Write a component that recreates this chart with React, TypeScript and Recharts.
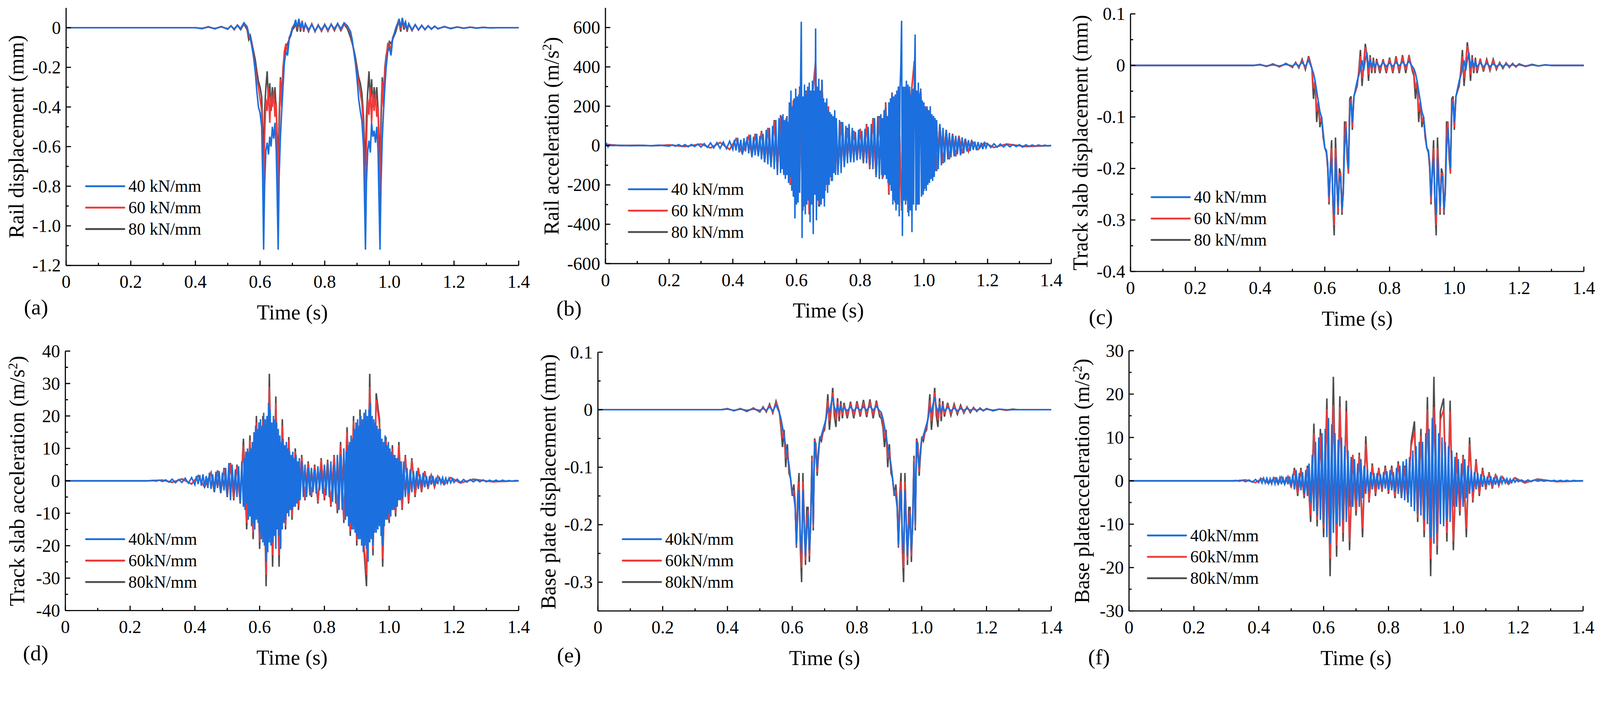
import React from 'react';
import { LineChart, Line, XAxis, YAxis, Legend } from 'recharts';

const FONT = '"Liberation Serif", "Times New Roman", Times, serif';
const BLUE = '#1B6FDE';
const RED = '#EF3B3B';
const GRAY = '#4D4D4D';

// ---------- time grids (s) ----------
const tRail = [
  0, 0.40, 0.42, 0.44, 0.46, 0.48, 0.50, 0.51, 0.52, 0.53,
  0.54, 0.55, 0.56, 0.565, 0.57, 0.575, 0.58, 0.585, 0.59, 0.595,
  0.60, 0.605, 0.608, 0.611, 0.614, 0.618, 0.622, 0.626, 0.63, 0.634,
  0.638, 0.642, 0.646, 0.65, 0.653, 0.656, 0.659, 0.663, 0.667, 0.671,
  0.675, 0.68, 0.685, 0.69, 0.695, 0.70, 0.705, 0.71, 0.715, 0.72,
  0.725, 0.73, 0.735, 0.74, 0.75, 0.76, 0.77, 0.78, 0.79, 0.80,
  0.81, 0.82, 0.83, 0.84, 0.85, 0.86, 0.87, 0.88, 0.885, 0.89,
  0.895, 0.90, 0.905, 0.91, 0.915, 0.92, 0.923, 0.926, 0.929, 0.933,
  0.937, 0.941, 0.945, 0.949, 0.953, 0.957, 0.961, 0.965, 0.968, 0.971,
  0.974, 0.978, 0.982, 0.986, 0.99, 0.995, 1.00, 1.005, 1.01, 1.015,
  1.02, 1.025, 1.03, 1.035, 1.04, 1.045, 1.05, 1.055, 1.06, 1.07,
  1.08, 1.09, 1.10, 1.11, 1.12, 1.13, 1.14, 1.15, 1.17, 1.19,
  1.21, 1.23, 1.25, 1.27, 1.29, 1.31, 1.34, 1.40,
];

const tSlab = [
  0, 0.38, 0.40, 0.42, 0.44, 0.46, 0.48, 0.50, 0.51, 0.52,
  0.53, 0.54, 0.55, 0.56, 0.565, 0.57, 0.575, 0.58, 0.585, 0.59,
  0.595, 0.60, 0.605, 0.609, 0.613, 0.617, 0.621, 0.625, 0.629, 0.633,
  0.637, 0.641, 0.645, 0.649, 0.653, 0.657, 0.661, 0.665, 0.669, 0.673,
  0.677, 0.681, 0.685, 0.69, 0.695, 0.70, 0.705, 0.71, 0.715, 0.72,
  0.725, 0.73, 0.735, 0.74, 0.745, 0.75, 0.755, 0.76, 0.77, 0.78,
  0.79, 0.80, 0.81, 0.82, 0.83, 0.84, 0.85, 0.86, 0.87, 0.875,
  0.88, 0.885, 0.89, 0.895, 0.90, 0.905, 0.91, 0.915, 0.92, 0.924,
  0.928, 0.932, 0.936, 0.94, 0.944, 0.948, 0.952, 0.956, 0.96, 0.964,
  0.968, 0.972, 0.976, 0.98, 0.984, 0.988, 0.992, 0.996, 1.00, 1.005,
  1.01, 1.015, 1.02, 1.025, 1.03, 1.035, 1.04, 1.045, 1.05, 1.055,
  1.06, 1.065, 1.07, 1.08, 1.09, 1.10, 1.11, 1.12, 1.13, 1.14,
  1.15, 1.16, 1.17, 1.18, 1.19, 1.20, 1.22, 1.24, 1.26, 1.28,
  1.30, 1.32, 1.34, 1.36, 1.38, 1.40,
];

// 5 ms grid in the active zone (used for base plate acceleration)
const tAcc = [
  0, 0.004, 0.008, 0.012, 0.02, 0.05, 0.08, 0.11, 0.14, 0.17,
  0.20, 0.21, 0.22, 0.23, 0.24, 0.25, 0.26, 0.27, 0.28, 0.29,
  0.30, 0.31, 0.32, 0.33, 0.34, 0.35, 0.36, 0.37, 0.38, 0.39,
  0.40, 0.405, 0.41, 0.415, 0.42, 0.425, 0.43, 0.435, 0.44, 0.445,
  0.45, 0.455, 0.46, 0.465, 0.47, 0.475, 0.48, 0.485, 0.49, 0.495,
  0.50, 0.505, 0.51, 0.515, 0.52, 0.525, 0.53, 0.535, 0.54, 0.545,
  0.55, 0.555, 0.56, 0.565, 0.57, 0.575, 0.58, 0.585, 0.59, 0.595,
  0.60, 0.605, 0.61, 0.615, 0.62, 0.625, 0.63, 0.635, 0.64, 0.645,
  0.65, 0.655, 0.66, 0.665, 0.67, 0.675, 0.68, 0.685, 0.69, 0.695,
  0.70, 0.705, 0.71, 0.715, 0.72, 0.725, 0.73, 0.735, 0.74, 0.745,
  0.75, 0.755, 0.76, 0.765, 0.77, 0.775, 0.78, 0.785, 0.79, 0.795,
  0.80, 0.805, 0.81, 0.815, 0.82, 0.825, 0.83, 0.835, 0.84, 0.845,
  0.85, 0.855, 0.86, 0.865, 0.87, 0.875, 0.88, 0.885, 0.89, 0.895,
  0.90, 0.905, 0.91, 0.915, 0.92, 0.925, 0.93, 0.935, 0.94, 0.945,
  0.95, 0.955, 0.96, 0.965, 0.97, 0.975, 0.98, 0.985, 0.99, 0.995,
  1.00, 1.005, 1.01, 1.015, 1.02, 1.025, 1.03, 1.035, 1.04, 1.045,
  1.05, 1.055, 1.06, 1.065, 1.07, 1.075, 1.08, 1.085, 1.09, 1.095,
  1.10, 1.105, 1.11, 1.115, 1.12, 1.125, 1.13, 1.135, 1.14, 1.145,
  1.15, 1.155, 1.16, 1.165, 1.17, 1.175, 1.18, 1.185, 1.19, 1.195,
  1.20, 1.21, 1.22, 1.23, 1.24, 1.25, 1.26, 1.27, 1.28, 1.29,
  1.30, 1.31, 1.32, 1.33, 1.34, 1.35, 1.36, 1.37, 1.38, 1.39,
  1.40,
];

// 2.5 ms grid inside the two wheel-passage bursts (rail and slab acceleration)
const tAccD = [
  0, 0.004, 0.008, 0.012, 0.02, 0.05, 0.08, 0.11, 0.14, 0.17,
  0.20, 0.21, 0.22, 0.23, 0.24, 0.25, 0.26, 0.27, 0.28, 0.29,
  0.30, 0.31, 0.32, 0.33, 0.34, 0.35, 0.36, 0.37, 0.38, 0.39,
  0.40, 0.405, 0.41, 0.415, 0.42, 0.425, 0.43, 0.435, 0.44, 0.445,
  0.45, 0.455, 0.46, 0.465, 0.47, 0.475, 0.48, 0.485, 0.49, 0.495,
  0.50, 0.505, 0.51, 0.515, 0.52, 0.525, 0.53, 0.535, 0.54, 0.545,
  0.55, 0.5525, 0.555, 0.5575, 0.56, 0.5625, 0.565, 0.5675, 0.57, 0.5725,
  0.575, 0.5775, 0.58, 0.5825, 0.585, 0.5875, 0.59, 0.5925, 0.595, 0.5975,
  0.60, 0.6025, 0.605, 0.6075, 0.61, 0.6125, 0.615, 0.6175, 0.62, 0.6225,
  0.625, 0.6275, 0.63, 0.6325, 0.635, 0.6375, 0.64, 0.6425, 0.645, 0.6475,
  0.65, 0.6525, 0.655, 0.6575, 0.66, 0.6625, 0.665, 0.6675, 0.67, 0.6725,
  0.675, 0.6775, 0.68, 0.6825, 0.685, 0.6875, 0.69, 0.6925, 0.695, 0.6975,
  0.70, 0.7025, 0.705, 0.7075, 0.71, 0.7125, 0.715, 0.7175, 0.72, 0.7225,
  0.725, 0.73, 0.735, 0.74, 0.745, 0.75, 0.755, 0.76, 0.765, 0.77,
  0.775, 0.78, 0.785, 0.79, 0.795, 0.80, 0.805, 0.81, 0.815, 0.82,
  0.825, 0.83, 0.835, 0.84, 0.845, 0.85, 0.855, 0.86,
  0.865, 0.8675, 0.87, 0.8725, 0.875, 0.8775, 0.88, 0.8825, 0.885, 0.8875,
  0.89, 0.8925, 0.895, 0.8975, 0.90, 0.9025, 0.905, 0.9075, 0.91, 0.9125,
  0.915, 0.9175, 0.92, 0.9225, 0.925, 0.9275, 0.93, 0.9325, 0.935, 0.9375,
  0.94, 0.9425, 0.945, 0.9475, 0.95, 0.9525, 0.955, 0.9575, 0.96, 0.9625,
  0.965, 0.9675, 0.97, 0.9725, 0.975, 0.9775, 0.98, 0.9825, 0.985, 0.9875,
  0.99, 0.9925, 0.995, 0.9975, 1.00, 1.0025, 1.005, 1.0075, 1.01, 1.0125,
  1.015, 1.0175, 1.02, 1.0225, 1.025, 1.0275, 1.03, 1.0325, 1.035, 1.0375,
  1.04, 1.045, 1.05, 1.055, 1.06, 1.065, 1.07, 1.075, 1.08, 1.085,
  1.09, 1.095, 1.10, 1.105, 1.11, 1.115, 1.12, 1.125, 1.13, 1.135,
  1.14, 1.145, 1.15, 1.155, 1.16, 1.165, 1.17, 1.175, 1.18, 1.185,
  1.19, 1.195,
  1.20, 1.21, 1.22, 1.23, 1.24, 1.25, 1.26, 1.27, 1.28, 1.29,
  1.30, 1.31, 1.32, 1.33, 1.34, 1.35, 1.36, 1.37, 1.38, 1.39,
  1.40,
];

// coarser grid for the 60 / 80 kN/mm acceleration curves (mostly hidden under blue)
const tAccB = [
  0, 0.01, 0.05, 0.10, 0.15, 0.20, 0.25, 0.30, 0.33, 0.36,
  0.39, 0.41, 0.43, 0.45, 0.46, 0.47, 0.48, 0.49, 0.50, 0.51,
  0.52, 0.53, 0.54, 0.55, 0.56, 0.57, 0.58, 0.59, 0.60, 0.61,
  0.62, 0.63, 0.64, 0.65, 0.66, 0.67, 0.68, 0.69, 0.70, 0.71,
  0.72, 0.73, 0.74, 0.75, 0.76, 0.77, 0.78, 0.79, 0.80, 0.81,
  0.82, 0.83, 0.84, 0.85, 0.86, 0.87, 0.88, 0.89, 0.90, 0.91,
  0.92, 0.93, 0.94, 0.95, 0.96, 0.97, 0.98, 0.99, 1.00, 1.01,
  1.02, 1.03, 1.04, 1.05, 1.06, 1.07, 1.08, 1.09, 1.10, 1.11,
  1.12, 1.13, 1.14, 1.15, 1.17, 1.19, 1.22, 1.26, 1.32, 1.40,
];

// ---------- (a) rail displacement (mm) ----------
const a40 = [
  0, 0, -0.003, 0.003, -0.004, 0.004, -0.005, 0.008, -0.006, 0.012,
  -0.004, 0.025, 0.005, -0.03, -0.05, -0.10, -0.15, -0.22, -0.32, -0.40,
  -0.43, -0.50, -0.75, -1.12, -0.80, -0.62, -0.58, -0.64, -0.55, -0.60,
  -0.50, -0.56, -0.48, -0.62, -0.85, -1.12, -0.75, -0.55, -0.42, -0.30,
  -0.18, -0.12, -0.14, -0.06, -0.03, 0.0, 0.01, 0.04, 0.0, 0.045,
  0.0, 0.03, -0.01, 0.02, -0.01, 0.015, -0.015, 0.01, -0.01, 0.015,
  -0.01, 0.015, -0.005, 0.02, -0.005, 0.025, 0.01, -0.02, -0.06, -0.12,
  -0.18, -0.26, -0.36, -0.42, -0.47, -0.60, -0.85, -1.12, -0.78, -0.62,
  -0.57, -0.63, -0.48, -0.55, -0.52, -0.58, -0.50, -0.62, -0.88, -1.12,
  -0.80, -0.56, -0.42, -0.30, -0.20, -0.12, -0.10, -0.14, -0.06, -0.03,
  0.0, 0.02, 0.045, 0.0, 0.05, 0.01, 0.03, -0.01, 0.02, -0.01,
  0.015, -0.01, 0.01, -0.008, 0.008, -0.005, 0.006, -0.004, 0.004, -0.003,
  0.003, -0.002, 0.002, -0.002, 0.001, -0.001, 0, 0,
];
const a60 = [
  0, 0, -0.004, 0.004, -0.005, 0.005, -0.007, 0.01, -0.008, 0.014,
  -0.006, 0.022, 0.0, -0.04, -0.06, -0.09, -0.14, -0.20, -0.26, -0.30,
  -0.36, -0.42, -0.65, -0.93, -0.55, -0.36, -0.42, -0.30, -0.48, -0.34,
  -0.40, -0.32, -0.45, -0.38, -0.60, -0.92, -0.55, -0.26, -0.40, -0.22,
  -0.12, -0.08, -0.12, -0.05, -0.03, 0.0, 0.015, 0.03, -0.005, 0.04,
  -0.01, 0.035, -0.015, 0.02, -0.015, 0.018, -0.018, 0.012, -0.015, 0.018,
  -0.015, 0.018, -0.01, 0.022, -0.01, 0.02, 0.005, -0.03, -0.07, -0.12,
  -0.17, -0.23, -0.28, -0.33, -0.38, -0.50, -0.70, -0.93, -0.58, -0.36,
  -0.44, -0.30, -0.48, -0.33, -0.42, -0.33, -0.45, -0.40, -0.65, -0.93,
  -0.55, -0.27, -0.40, -0.22, -0.15, -0.08, -0.08, -0.12, -0.05, -0.03,
  -0.005, 0.015, 0.04, -0.01, 0.048, 0.0, 0.025, -0.015, 0.02, -0.012,
  0.015, -0.012, 0.012, -0.01, 0.01, -0.007, 0.007, -0.005, 0.005, -0.004,
  0.004, -0.003, 0.003, -0.002, 0.002, -0.001, 0, 0,
];
const a80 = [
  0, 0, -0.005, 0.005, -0.006, 0.006, -0.008, 0.01, -0.01, 0.012,
  -0.01, 0.018, -0.01, -0.06, -0.04, -0.08, -0.12, -0.16, -0.22, -0.27,
  -0.30, -0.35, -0.50, -0.70, -0.42, -0.30, -0.22, -0.38, -0.28, -0.42,
  -0.30, -0.38, -0.30, -0.42, -0.55, -0.70, -0.45, -0.25, -0.35, -0.20,
  -0.14, -0.10, -0.08, -0.06, -0.04, -0.01, 0.0, 0.02, -0.02, 0.035,
  -0.02, 0.03, -0.02, 0.018, -0.02, 0.02, -0.02, 0.015, -0.018, 0.015,
  -0.018, 0.018, -0.015, 0.02, -0.015, 0.018, -0.005, -0.05, -0.08, -0.11,
  -0.15, -0.20, -0.25, -0.28, -0.33, -0.45, -0.58, -0.70, -0.45, -0.32,
  -0.22, -0.38, -0.26, -0.40, -0.30, -0.38, -0.30, -0.42, -0.55, -0.70,
  -0.45, -0.25, -0.35, -0.20, -0.14, -0.10, -0.07, -0.08, -0.06, -0.04,
  -0.02, 0.01, 0.03, -0.02, 0.04, -0.01, 0.02, -0.02, 0.018, -0.015,
  0.015, -0.012, 0.012, -0.01, 0.01, -0.008, 0.008, -0.006, 0.006, -0.005,
  0.004, -0.003, 0.003, -0.002, 0.002, -0.001, 0, 0,
];

// ---------- (b) rail acceleration (m/s2), 40 on tAccD ----------
const b40 = [
  0, 9, -7, 3, 0, 1, -1, 1, -1, 2,
  -3, 4, -3, 5, -4, 5, -6, 6, -5, 8,
  -8, 10, -9, 14, -12, 15, -14, 18, -16, 22,
  -20, 28, -25, 40, -35, 30, -45, 38, -30, 45,
  -40, 55, -60, 45, -50, 60, -55, 50, -70, 60,
  -85, 80, -95, 90, -110, 100, -120, 130, -150, 140,
  -140, 150, -120, 160, -150, 130, -170, 140, -150, 120,
  -190, 220, -160, 280, -230, 200, -260, 240, -370, 290,
  -300, 250, -290, 260, -240, 300, 630, -470, 250, -310,
  310, -350, 260, -300, 300, -280, 320, -390, 280, -300,
  330, -450, 280, -250, 595, -380, 300, -280, 340, -310,
  280, -300, 335, -270, 240, -310, 220, -200, 240, -240,
  180, -200, 170, -160, 160, -180, 150, -140, 180, -150,
  140, -150, 130, -140, 120, -110, 100, -90, 110, -85,
  90, -85, 70, -75, 80, -70, 75, -80, 85, -90,
  95, -100, 110, -120, 140, -150, 150, -170,
  160, -150, 140, -160, 180, -150, 190, -170, 150, -190,
  220, -200, 240, -230, 260, -300, 250, -280, 260, -330,
  280, -300, 300, -360, 290, 400, 635, -460, 300, -280,
  300, -300, 330, -280, 310, -360, 300, -330, 260, -440,
  290, -300, 320, 565, -330, 280, -300, 320, -300, 260,
  280, -260, 230, -250, 220, -220, 200, -230, 190, -200,
  180, -190, 200, -170, 160, -180, 150, -160, 140, -130,
  130, -120, 110, -100, 90, -85, 80, -70, 65, -60,
  55, -55, 50, -45, 40, -50, 42, -40, 35, -30,
  28, -28, 25, -22, 20, -24, 18, -16, 15, -18,
  12, -12,
  10, -10, 9, -8, 8, -7, 6, -6, 5, -5,
  5, -8, 4, -4, 3, -3, 3, -2, 2, -2,
  0,
];
const b60 = [
  0, 4, 0, 1, -1, 3, -4, 7, -11, 15,
  -19, 33, -38, 48, -52, 58, -48, 72, -80, 88,
  -95, 125, -125, 150, -135, 145, -195, 225, -250, 290,
  -320, 270, -340, 250, 420, -300, 330, -225, 200, -175,
  145, -135, 115, -95, 85, -75, 72, -68, 80, -85,
  105, -115, 135, -155, 145, -165, 215, -245, 265, -285,
  295, -325, 275, -335, 255, 425, -295, 285, -225, 200,
  -165, 145, -125, 105, -85, 75, -65, 58, -52, 48,
  -38, 33, -28, 24, -18, 14, -9, 7, -4, 0,
];
const b80 = [
  0, 5, 0, 1, -1, 3, -5, 8, -12, 16,
  -20, 35, -40, 50, -55, 60, -50, 75, -85, 90,
  -100, 130, -130, 155, -140, 150, -200, 230, -260, 300,
  -330, 280, -350, 260, 430, -310, 335, -230, 190, -180,
  150, -140, 120, -100, 90, -80, 75, -70, 85, -90,
  110, -120, 140, -160, 150, -170, 220, -250, 270, -290,
  300, -330, 280, -340, 260, 430, -300, 290, -230, 190,
  -170, 150, -130, 110, -90, 80, -70, 60, -55, 50,
  -40, 35, -30, 25, -20, 15, -10, 8, -5, 0,
];

// ---------- (c) track slab displacement (mm) ----------
const c40 = [
  0, 0, 0.001, -0.001, 0.001, -0.001, 0.002, -0.001, 0.003, -0.001,
  0.006, -0.002, 0.01, -0.006, -0.015, -0.03, -0.05, -0.07, -0.09, -0.10,
  -0.13, -0.16, -0.165, -0.19, -0.255, -0.21, -0.18, -0.26, -0.29, -0.18,
  -0.23, -0.275, -0.22, -0.215, -0.28, -0.25, -0.16, -0.12, -0.16, -0.20,
  -0.09, -0.07, -0.11, -0.06, -0.045, -0.03, -0.02, -0.005, 0.01, -0.01,
  0.01, 0.025, -0.005, 0.012, -0.004, 0.008, -0.003, 0.005, -0.003, 0.006,
  -0.002, 0.005, -0.002, 0.006, -0.001, 0.007, -0.001, 0.008, -0.002, -0.006,
  -0.015, -0.03, -0.05, -0.07, -0.09, -0.10, -0.13, -0.16, -0.165, -0.19,
  -0.255, -0.21, -0.18, -0.26, -0.29, -0.18, -0.23, -0.275, -0.22, -0.215,
  -0.28, -0.25, -0.16, -0.12, -0.16, -0.20, -0.09, -0.07, -0.11, -0.06,
  -0.045, -0.03, -0.02, -0.005, 0.01, -0.01, 0.01, 0.025, -0.005, 0.012,
  -0.004, 0.008, -0.003, 0.005, -0.003, 0.004, -0.002, 0.003, -0.002, 0.002,
  -0.002, 0.002, -0.001, 0.001, -0.001, 0.001, -0.001, 0.001, -0.001, 0.001,
  0, 0, 0, 0, 0, 0,
];
const c60 = [
  0, 0, 0.0015, -0.0015, 0.002, -0.002, 0.003, -0.003, 0.005, -0.003,
  0.009, -0.005, 0.014, -0.005, -0.045, -0.03, -0.09, -0.07, -0.11, -0.10,
  -0.135, -0.16, -0.168, -0.195, -0.265, -0.205, -0.16, -0.265, -0.31, -0.16,
  -0.22, -0.285, -0.21, -0.21, -0.285, -0.245, -0.13, -0.11, -0.17, -0.21,
  -0.075, -0.065, -0.12, -0.06, -0.048, -0.035, -0.015, 0.018, -0.025, 0.0,
  0.035, 0.022, -0.018, 0.016, -0.01, 0.012, -0.01, 0.01, -0.01, 0.009,
  -0.01, 0.011, -0.01, 0.013, -0.009, 0.015, -0.009, 0.016, -0.007, -0.014,
  -0.045, -0.03, -0.09, -0.07, -0.11, -0.10, -0.135, -0.16, -0.168, -0.195,
  -0.265, -0.205, -0.16, -0.265, -0.31, -0.16, -0.22, -0.285, -0.21, -0.21,
  -0.285, -0.245, -0.13, -0.11, -0.17, -0.21, -0.075, -0.065, -0.12, -0.06,
  -0.048, -0.035, -0.015, 0.018, -0.025, 0.0, 0.038, 0.022, -0.018, 0.016,
  -0.01, 0.012, -0.01, 0.01, -0.009, 0.009, -0.007, 0.009, -0.006, 0.005,
  -0.004, 0.004, -0.003, 0.003, -0.002, 0.002, -0.002, 0.001, -0.001, 0.001,
  0, 0, 0, 0, 0, 0,
];
const c80 = [
  0, 0, 0.002, -0.002, 0.003, -0.003, 0.004, -0.004, 0.006, -0.005,
  0.012, -0.008, 0.018, -0.005, -0.065, -0.03, -0.11, -0.07, -0.12, -0.10,
  -0.14, -0.16, -0.17, -0.20, -0.27, -0.20, -0.145, -0.27, -0.33, -0.14,
  -0.21, -0.29, -0.20, -0.21, -0.29, -0.24, -0.11, -0.11, -0.18, -0.21,
  -0.065, -0.06, -0.125, -0.06, -0.05, -0.04, -0.01, 0.03, -0.04, 0.0,
  0.042, 0.02, -0.03, 0.02, -0.015, 0.015, -0.015, 0.013, -0.015, 0.012,
  -0.015, 0.015, -0.015, 0.018, -0.015, 0.02, -0.015, 0.02, -0.01, -0.02,
  -0.065, -0.03, -0.11, -0.07, -0.12, -0.10, -0.14, -0.16, -0.17, -0.20,
  -0.27, -0.20, -0.145, -0.27, -0.33, -0.14, -0.21, -0.29, -0.20, -0.21,
  -0.29, -0.24, -0.11, -0.11, -0.18, -0.21, -0.065, -0.06, -0.125, -0.06,
  -0.05, -0.04, -0.01, 0.03, -0.04, 0.0, 0.045, 0.02, -0.03, 0.02,
  -0.015, 0.015, -0.015, 0.013, -0.012, 0.012, -0.01, 0.012, -0.008, 0.006,
  -0.006, 0.005, -0.004, 0.004, -0.003, 0.003, -0.002, 0.002, -0.001, 0.001,
  0, 0, 0, 0, 0, 0,
];

// ---------- (d) track slab acceleration (m/s2), 40 on tAccD ----------
const d40 = [
  0, 0, 0, 0, 0, 0, 0, 0, 0, 0,
  0, 0, 0, 0, 0, 0, 0, 0.1, -0.1, 0.2,
  -0.2, 0.3, -0.4, 0.5, -0.6, 0.4, -0.5, 0.8, -0.7, 1.0,
  -1.2, 1.5, -1.0, 1.8, -1.5, 2.0, -1.8, 1.5, -2.2, 2.5,
  -2.5, 2.0, -3.0, 2.8, -2.2, 3.0, -3.5, 2.5, -3.0, 4.0,
  -4.5, 5.5, -6.0, 5.0, -4.0, 3.5, -5.0, 4.5, -6.5, 6.0,
  -8.0, 7.0, -9.0, 9.0, -7.0, 10.0, -12.0, 9.0, -11.0, 10.0,
  -14.0, 12.0, -13.0, 15.0, -15.0, 17.0, -12.0, 16.0, -13.0, 18.0,
  -16.0, 19.0, -18.0, 17.0, -19.0, 21.0, -20.0, 19.0, -25.0, 20.0,
  -22.0, 24.0, -19.0, 22.0, -20.0, 18.0, -19.0, 20.0, -17.0, 19.0,
  -21.0, 18.0, -15.0, 16.0, -17.0, 14.0, -21.0, 12.0, -15.0, 13.0,
  -13.0, 11.0, -12.0, 12.0, -10.0, 10.0, -11.0, 9.0, -9.0, 8.0,
  -9.0, 9.0, -8.0, 7.0, -8.0, 8.0, -7.0, 6.0, -6.0, 7.0,
  -6.0, 6.0, -5.0, 5.0, -5.0, 4.0, -4.5, 4.0, -3.5, 3.5,
  -4.0, 4.5, -3.0, 3.5, -4.0, 5.0, -4.5, 5.5, -5.0, 6.0,
  -6.5, 5.0, -7.0, 8.0, -9.0, 8.0, -9.0, 10.0,
  -12.0, 9.0, -11.0, 11.0, -14.0, 12.0, -13.0, 14.0, -15.0, 13.0,
  -15.0, 16.0, -16.0, 18.0, -17.0, 19.0, -18.0, 17.0, -18.0, 20.0,
  -20.0, 19.0, -22.0, 21.0, -20.0, 22.0, -21.0, 20.0, -25.0, 22.0,
  -19.0, 24.0, -18.0, 20.0, -20.0, 19.0, -16.0, 18.0, -16.0, 17.0,
  -15.0, 16.0, -14.0, 16.0, -17.0, 13.0, -20.0, 12.0, -14.0, 14.0,
  -12.0, 11.0, -12.0, 12.0, -10.0, 10.0, -11.0, 9.0, -9.0, 8.0,
  -9.0, 8.0, -8.0, 7.0, -8.0, 7.0, -6.0, 6.0, -6.0, 6.0,
  -5.5, 6.0, -5.0, 4.0, -4.0, 3.5, -3.5, 3.0, -2.5, 3.0,
  -2.5, 2.0, -2.0, 2.5, -2.0, 1.5, -1.8, 1.5, -1.2, 1.5,
  -1.2, 1.0, -1.0, 1.2, -0.8, 1.0, -0.8, 0.8, -0.7, 0.8,
  -0.6, 0.6,
  -0.5, 0.5, -0.5, 0.4, -0.4, 0.4, -0.3, 0.3, -0.3, 0.3,
  -0.3, 0.2, -0.2, 0.2, -0.2, 0.2, -0.1, 0.1, -0.1, 0.1,
  0,
];
const d60 = [
  0, 0, 0, 0, 0, 0, 0, 0.2, -0.4, 0.5,
  -0.9, 1.4, -1.8, 2.3, -3.0, 3.0, -3.5, 3.6, -4.6, 5.2,
  -5.5, 4.6, -6.5, 11.0, -13.0, 12.5, -16.0, 18.0, -19.0, 18.5,
  -29.0, 29.0, -23.0, 24.0, -23.0, 17.0, -14.0, 12.5, -11.0, 9.0,
  -8.0, 7.5, -5.5, 5.5, -4.5, 4.5, -6.5, 6.5, -5.5, 6.0,
  -7.5, 7.5, -9.0, 11.0, -12.0, 15.0, -15.5, 18.5, -18.5, 20.0,
  -17.0, -29.0, 29.0, -21.0, 25.0, 17.5, -24.0, 12.5, -12.0, 10.0,
  -10.0, 11.0, -8.5, 7.5, -6.5, 6.5, -4.5, 3.8, -3.2, 2.8,
  -2.3, 1.8, -1.8, 1.4, -1.1, 0.9, -0.6, 0.4, -0.3, 0,
];
const d80 = [
  0, 0, 0, 0, 0, 0, 0, 0.2, -0.5, 0.6,
  -1.0, 1.6, -2.0, 2.6, -3.5, 3.2, -3.8, 4.0, -5.0, 5.5,
  -6.0, 5.0, -7.0, 13.0, -15.0, 14.0, -18.0, 20.0, -21.0, 20.0,
  -32.5, 33.0, -26.5, 26.0, -26.5, 19.0, -15.0, 13.5, -12.0, 10.0,
  -9.0, 8.0, -6.0, 6.0, -5.0, 5.0, -7.0, 7.0, -6.0, 6.5,
  -8.0, 8.0, -10.0, 12.0, -13.0, 16.5, -17.0, 20.0, -20.0, 22.0,
  -18.0, -32.5, 33.0, -23.0, 27.0, 19.0, -26.5, 13.5, -13.0, 11.0,
  -11.0, 12.0, -9.0, 8.0, -7.0, 7.0, -5.0, 4.0, -3.5, 3.0,
  -2.5, 2.0, -2.0, 1.5, -1.2, 1.0, -0.7, 0.5, -0.3, 0,
];

// ---------- (e) base plate displacement (mm) ----------
const e40 = [
  0, 0, 0.001, -0.001, 0.001, -0.001, 0.001, -0.001, 0.002, -0.001,
  0.005, -0.002, 0.008, -0.005, -0.015, -0.03, -0.045, -0.065, -0.08, -0.095,
  -0.12, -0.145, -0.15, -0.17, -0.235, -0.18, -0.14, -0.22, -0.25, -0.14,
  -0.20, -0.255, -0.21, -0.18, -0.245, -0.20, -0.09, -0.20, -0.055, -0.08,
  -0.10, -0.07, -0.05, -0.045, -0.035, -0.025, -0.015, 0.005, -0.005, 0.01,
  0.022, 0.005, -0.004, 0.008, -0.003, 0.006, -0.002, 0.004, -0.002, 0.005,
  -0.002, 0.004, -0.001, 0.005, -0.001, 0.006, -0.001, 0.006, -0.002, -0.005,
  -0.015, -0.03, -0.045, -0.065, -0.08, -0.095, -0.12, -0.145, -0.15, -0.17,
  -0.235, -0.18, -0.14, -0.22, -0.25, -0.14, -0.20, -0.255, -0.21, -0.18,
  -0.245, -0.20, -0.09, -0.20, -0.055, -0.08, -0.10, -0.07, -0.05, -0.045,
  -0.035, -0.025, -0.015, 0.005, -0.005, 0.01, 0.022, 0.005, -0.004, 0.008,
  -0.003, 0.006, -0.002, 0.004, -0.002, 0.003, -0.002, 0.002, -0.001, 0.002,
  -0.001, 0.001, -0.001, 0.001, -0.001, 0.001, -0.001, 0.001, 0, 0,
  0, 0, 0, 0, 0, 0,
];
const e60 = [
  0, 0, 0.0015, -0.0015, 0.0015, -0.002, 0.002, -0.003, 0.004, -0.003,
  0.008, -0.004, 0.012, -0.004, -0.022, -0.05, -0.04, -0.085, -0.07, -0.10,
  -0.12, -0.148, -0.14, -0.165, -0.238, -0.165, -0.125, -0.23, -0.275, -0.125,
  -0.195, -0.262, -0.19, -0.175, -0.255, -0.195, -0.085, -0.205, -0.052, -0.07,
  -0.108, -0.075, -0.05, -0.05, -0.038, -0.03, -0.012, 0.016, -0.02, 0.005,
  0.03, 0.0, -0.018, 0.014, -0.012, 0.01, -0.009, 0.008, -0.009, 0.009,
  -0.009, 0.01, -0.007, 0.011, -0.007, 0.012, -0.008, 0.011, -0.007, -0.01,
  -0.022, -0.05, -0.04, -0.085, -0.07, -0.10, -0.12, -0.148, -0.14, -0.165,
  -0.238, -0.165, -0.125, -0.23, -0.275, -0.125, -0.195, -0.262, -0.19, -0.175,
  -0.255, -0.195, -0.085, -0.205, -0.052, -0.07, -0.108, -0.075, -0.05, -0.05,
  -0.038, -0.03, -0.012, 0.016, -0.02, 0.005, 0.03, 0.0, -0.018, 0.014,
  -0.012, 0.01, -0.008, 0.008, -0.006, 0.007, -0.005, 0.005, -0.004, 0.004,
  -0.003, 0.003, -0.002, 0.002, -0.002, 0.001, -0.001, 0.001, -0.001, 0,
  0, 0, 0, 0, 0, 0,
];
const e80 = [
  0, 0, 0.002, -0.002, 0.002, -0.003, 0.003, -0.004, 0.005, -0.004,
  0.01, -0.006, 0.015, -0.003, -0.03, -0.065, -0.035, -0.10, -0.06, -0.11,
  -0.12, -0.15, -0.13, -0.16, -0.24, -0.15, -0.11, -0.24, -0.30, -0.11,
  -0.19, -0.27, -0.17, -0.17, -0.265, -0.19, -0.08, -0.21, -0.05, -0.06,
  -0.115, -0.08, -0.05, -0.055, -0.04, -0.035, -0.01, 0.027, -0.035, 0.0,
  0.038, -0.01, -0.03, 0.02, -0.02, 0.015, -0.015, 0.012, -0.015, 0.014,
  -0.015, 0.015, -0.012, 0.017, -0.013, 0.018, -0.015, 0.016, -0.012, -0.015,
  -0.03, -0.065, -0.035, -0.10, -0.06, -0.11, -0.12, -0.15, -0.13, -0.16,
  -0.24, -0.15, -0.11, -0.24, -0.30, -0.11, -0.19, -0.27, -0.17, -0.17,
  -0.265, -0.19, -0.08, -0.21, -0.05, -0.06, -0.115, -0.08, -0.05, -0.055,
  -0.04, -0.035, -0.01, 0.027, -0.035, 0.0, 0.038, -0.01, -0.03, 0.02,
  -0.02, 0.015, -0.012, 0.012, -0.01, 0.01, -0.008, 0.008, -0.006, 0.005,
  -0.005, 0.004, -0.003, 0.003, -0.002, 0.002, -0.002, 0.001, -0.001, 0.001,
  0, 0, 0, 0, 0, 0,
];

// ---------- (f) base plate acceleration (m/s2), 40 on tAcc ----------
const f40 = [
  0, 0, 0, 0, 0, 0, 0, 0, 0, 0,
  0, 0, 0, 0, 0, 0, 0, 0, 0, 0,
  0, 0, 0, 0.1, -0.1, 0.1, -0.2, 0.2, -0.3, 0.3,
  -0.4, 0.5, -0.5, 0.6, -0.5, 0.6, -0.6, 0.5, -0.7, 0.6,
  -0.7, 0.8, -0.6, 0.7, -0.8, 0.6, -0.7, 0.9, -0.8, 1.0,
  -1.2, 1.5, -2.0, 2.5, -2.0, 1.8, -2.2, 2.0, -3.0, 2.5,
  -3.5, 4.0, -5.0, 6.0, -7.0, 9.0, -8.0, 10.0, -9.0, 11.0,
  -10.0, 12.0, -13.0, 14.5, -14.5, 13.0, -12.0, 11.0, -10.0, 9.5,
  -10.5, 10.0, -9.0, 8.0, -9.5, 7.0, -6.0, 5.5, -6.0, 5.0,
  -4.5, 4.0, -6.0, 5.0, -4.0, 3.5, -3.0, 2.5, -2.5, 2.0,
  -2.0, 1.8, -1.5, 1.8, -2.0, 1.5, -1.5, 2.0, -1.8, 2.2,
  -2.0, 2.5, -2.2, 2.0, -2.5, 3.0, -3.0, 3.5, -4.0, 4.5,
  -4.5, 5.0, -5.0, 5.5, -6.0, 7.0, -7.0, 8.0, -7.5, 9.0,
  -8.0, 9.0, -9.0, 11.0, -10.0, 12.0, -13.0, 14.5, -14.5, 13.0,
  -12.0, 11.0, -10.0, 10.0, -10.5, 9.0, -9.0, 8.0, -9.5, 7.0,
  -6.0, 5.5, -6.0, 5.0, -4.5, 4.0, -6.0, 5.0, -4.0, 3.5,
  -3.0, 2.5, -2.5, 2.0, -2.0, 1.8, -1.6, 1.5, -1.4, 1.2,
  -1.2, 1.0, -1.0, 1.1, -0.9, 0.8, -0.9, 0.7, -0.6, 0.7,
  -0.6, 0.5, -0.5, 0.5, -0.5, 0.4, -0.4, 0.4, -0.3, 0.3,
  -0.2, 0.2, -0.2, 0.2, -0.2, 0.2, -0.1, 0.1, -0.1, 0.1,
  -0.1, 0.1, -0.1, 0.1, -0.1, 0.1, -0.1, 0.1, 0, 0,
  0,
];
const f60 = [
  0, 0, 0, 0, 0, 0, 0, 0, 0, 0.2,
  -0.4, 0.5, -0.5, 0.6, -0.7, 0.8, -0.7, 0.9, -1.3, 2.6,
  -3.0, 2.6, -3.5, 3.0, -8.0, 11.0, -9.0, 10.5, -11.0, 16.5,
  -18.0, 17.5, -15.0, 17.0, -12.0, 16.0, -14.0, 6.0, -7.0, 6.0,
  -11.0, 8.5, -4.5, 3.5, -3.0, 2.8, -2.2, 3.0, -2.6, 3.0,
  -3.5, 4.0, -3.6, 3.2, -4.5, 8.0, 11.5, -8.5, 10.5, -11.5,
  16.5, -18.0, 17.0, -15.0, 14.0, 16.5, -12.0, 16.0, -14.0, 6.0,
  -7.0, 5.5, -11.0, 8.5, -4.5, 4.5, -3.0, 2.7, -1.8, 1.8,
  -1.6, 1.3, -1.1, 0.9, -0.7, 0.6, -0.4, 0.3, -0.2, 0,
];
const f80 = [
  0, 0, 0, 0, 0, 0, 0, 0, 0, 0.2,
  -0.4, 0.5, -0.6, 0.7, -0.8, 0.9, -0.8, 1.0, -1.5, 3.0,
  -3.5, 3.0, -4.0, 3.5, -9.5, 13.2, -10.5, 12.0, -13.0, 19.0,
  -22.0, 24.0, -17.5, 19.5, -14.0, 18.5, -16.0, 6.0, -8.0, 6.5,
  -13.0, 10.3, -5.0, 4.0, -3.5, 3.0, -2.5, 3.5, -3.0, 3.5,
  -4.0, 4.5, -4.0, 3.5, -5.0, 9.0, 13.7, -9.5, 12.0, -13.0,
  19.3, -22.0, 24.0, -17.0, 16.0, 19.0, -14.0, 18.5, -16.0, 6.5,
  -8.0, 6.0, -13.0, 10.0, -5.0, 5.0, -3.5, 3.0, -2.0, 2.0,
  -1.8, 1.5, -1.2, 1.0, -0.8, 0.7, -0.5, 0.4, -0.2, 0,
];

// ---------- ticks ----------
const xTicks = [0, 0.1, 0.2, 0.3, 0.4, 0.5, 0.6, 0.7, 0.8, 0.9, 1.0, 1.1, 1.2, 1.3, 1.4];
const yTicksA = [0, -0.1, -0.2, -0.3, -0.4, -0.5, -0.6, -0.7, -0.8, -0.9, -1.0, -1.1, -1.2];
const yMajorA = [0, -0.2, -0.4, -0.6, -0.8, -1.0, -1.2];
const yTicksB = [600, 500, 400, 300, 200, 100, 0, -100, -200, -300, -400, -500, -600];
const yMajorB = [600, 400, 200, 0, -200, -400, -600];
const yTicksC = [0.1, 0.05, 0, -0.05, -0.1, -0.15, -0.2, -0.25, -0.3, -0.35, -0.4];
const yMajorC = [0.1, 0, -0.1, -0.2, -0.3, -0.4];
const yTicksD = [40, 35, 30, 25, 20, 15, 10, 5, 0, -5, -10, -15, -20, -25, -30, -35, -40];
const yMajorD = [40, 30, 20, 10, 0, -10, -20, -30, -40];
const yTicksE = [0.1, 0.05, 0, -0.05, -0.1, -0.15, -0.2, -0.25, -0.3, -0.35];
const yMajorE = [0.1, 0, -0.1, -0.2, -0.3];
const yTicksF = [30, 25, 20, 15, 10, 5, 0, -5, -10, -15, -20, -25, -30];
const yMajorF = [30, 20, 10, 0, -10, -20, -30];

const fmtDec = (v: number) => (v === 0 ? '0' : v.toFixed(1));
const fmtInt = (v: number) => String(v);

const pts = (ts: number[], vs: number[]) => ts.map((t, i) => ({ t, v: vs[i] }));

const XTick = (p: any) => {
  const { x, y, payload } = p;
  const v = payload.value as number;
  const major = Math.round(v * 10) % 2 === 0;
  return (
    <g>
      <line x1={x} x2={x} y1={y} y2={y - (major ? 13 : 7)} stroke="#000" strokeWidth={3} />
      {major && (
        <text x={x} y={y + 60} textAnchor="middle" fontSize={48} fontFamily={FONT} fill="#000">
          {v === 0 ? '0' : v.toFixed(1)}
        </text>
      )}
    </g>
  );
};

const makeYTick = (majors: number[], fmt: (v: number) => string) => (p: any) => {
  const { x, y, payload } = p;
  const v = payload.value as number;
  const major = majors.some((m) => Math.abs(m - v) < 1e-9);
  return (
    <g>
      <line x1={x} x2={x + (major ? 13 : 7)} y1={y} y2={y} stroke="#000" strokeWidth={3} />
      {major && (
        <text x={x - 14} y={y} dy="0.34em" textAnchor="end" fontSize={48} fontFamily={FONT} fill="#000">
          {fmt(v)}
        </text>
      )}
    </g>
  );
};

const LegendRows = (props: any) => {
  const items = [...(props.payload || [])].sort((a: any, b: any) => String(a.value).localeCompare(String(b.value)));
  return (
    <div>
      {items.map((it: any) => (
        <div key={String(it.value)} style={{ display: 'flex', alignItems: 'center', height: 57 }}>
          <svg width={108} height={10} style={{ display: 'block' }}>
            <line x1={3} x2={105} y1={5} y2={5} stroke={it.color} strokeWidth={5} strokeLinecap="round" />
          </svg>
          <span style={{ marginLeft: 8, fontSize: 45, fontFamily: FONT, lineHeight: 1, color: '#000', whiteSpace: 'nowrap' }}>
            {it.value}
          </span>
        </div>
      ))}
    </div>
  );
};

type Series = { ts: number[]; vs: number[]; color: string; name: string };
type PanelDef = {
  id: string;
  L: number; T: number; W: number; H: number;
  yDomain: [number, number];
  yTicks: number[]; yMajor: number[]; yFmt: (v: number) => string;
  yLabel: React.ReactNode; yLabelOff: number;
  letter: string; letterOff: number; letterDy: number;
  legX: number; legY: number;
  series: Series[];
};

const AX_W = 200;
const AX_H = 100;
const MT = 40;
const MR = 50;

const sup2 = <sup style={{ fontSize: '0.62em', lineHeight: 0 }}>2</sup>;

const trio = (n40: string, n60: string, n80: string, ts40: number[], ts: number[], v40: number[], v60: number[], v80: number[]): Series[] => [
  { ts, vs: v80, color: GRAY, name: n80 },
  { ts, vs: v60, color: RED, name: n60 },
  { ts: ts40, vs: v40, color: BLUE, name: n40 },
];

const panels: PanelDef[] = [
  {
    id: 'a', L: 176, T: 21, W: 1205, H: 686, yDomain: [-1.2, 0.1],
    yTicks: yTicksA, yMajor: yMajorA, yFmt: fmtDec,
    yLabel: 'Rail displacement (mm)', yLabelOff: 133,
    letter: '(a)', letterOff: 80, letterDy: 111, legX: 229, legY: 496,
    series: trio('40 kN/mm', '60 kN/mm', '80 kN/mm', tRail, tRail, a40, a60, a80),
  },
  {
    id: 'b', L: 1612, T: 21, W: 1187, H: 681, yDomain: [-600, 700],
    yTicks: yTicksB, yMajor: yMajorB, yFmt: fmtInt,
    yLabel: <>Rail acceleration (m/s{sup2})</>, yLabelOff: 144,
    letter: '(b)', letterOff: 97, letterDy: 119, legX: 1674, legY: 504,
    series: trio('40 kN/mm', '60 kN/mm', '80 kN/mm', tAccD, tAccB, b40, b60, b80),
  },
  {
    id: 'c', L: 3010, T: 37, W: 1207, H: 686, yDomain: [-0.4, 0.1],
    yTicks: yTicksC, yMajor: yMajorC, yFmt: fmtDec,
    yLabel: 'Track slab displacement (mm)', yLabelOff: 134,
    letter: '(c)', letterOff: 79, letterDy: 121, legX: 3066, legY: 525,
    series: trio('40 kN/mm', '60 kN/mm', '80 kN/mm', tSlab, tSlab, c40, c60, c80),
  },
  {
    id: 'd', L: 174, T: 935, W: 1207, H: 691, yDomain: [-40, 40],
    yTicks: yTicksD, yMajor: yMajorD, yFmt: fmtInt,
    yLabel: <>Track slab acceleration (m/s{sup2})</>, yLabelOff: 128,
    letter: '(d)', letterOff: 79, letterDy: 114, legX: 229, legY: 1436,
    series: trio('40kN/mm', '60kN/mm', '80kN/mm', tAccD, tAccB, d40, d60, d80),
  },
  {
    id: 'e', L: 1592, T: 938, W: 1207, H: 689, yDomain: [-0.35, 0.1],
    yTicks: yTicksE, yMajor: yMajorE, yFmt: fmtDec,
    yLabel: 'Base plate displacement (mm)', yLabelOff: 132,
    letter: '(e)', letterOff: 77, letterDy: 118, legX: 1658, legY: 1436,
    series: trio('40kN/mm', '60kN/mm', '80kN/mm', tSlab, tSlab, e40, e60, e80),
  },
  {
    id: 'f', L: 3006, T: 934, W: 1209, H: 693, yDomain: [-30, 30],
    yTicks: yTicksF, yMajor: yMajorF, yFmt: fmtInt,
    yLabel: <>Base plateacceleration (m/s{sup2})</>, yLabelOff: 125,
    letter: '(f)', letterOff: 80, letterDy: 123, legX: 3056, legY: 1426,
    series: trio('40kN/mm', '60kN/mm', '80kN/mm', tAcc, tAccB, f40, f60, f80),
  },
];

const frame = { stroke: '#000', strokeWidth: 3 };

function Panel({ d }: { d: PanelDef }) {
  const left = d.L - AX_W;
  const top = d.T - MT;
  const YTick = makeYTick(d.yMajor, d.yFmt);
  const textBase: React.CSSProperties = {
    position: 'absolute', transform: 'translate(-50%, -50%)', whiteSpace: 'nowrap',
    lineHeight: 1, fontFamily: FONT, color: '#000',
  };
  return (
    <>
      <div style={{ position: 'absolute', left, top }}>
        <LineChart width={AX_W + d.W + MR} height={MT + d.H + AX_H} margin={{ top: MT, right: MR, bottom: 0, left: 0 }}>
          <XAxis xAxisId="b" dataKey="t" type="number" domain={[0, 1.4]} ticks={xTicks} interval={0}
            allowDataOverflow tick={(p: any) => <XTick {...p} />} tickLine={false} tickSize={0} tickMargin={0}
            height={AX_H} axisLine={frame} />
          <XAxis xAxisId="top" orientation="top" dataKey="t" type="number" domain={[0, 1.4]} tick={false}
            tickLine={false} height={0} axisLine={frame} />
          <YAxis yAxisId="l" type="number" domain={d.yDomain} ticks={d.yTicks} interval={0} allowDataOverflow
            tick={(p: any) => <YTick {...p} />} tickLine={false} tickSize={0} tickMargin={0} width={AX_W} axisLine={frame} />
          <YAxis yAxisId="r" orientation="right" type="number" domain={d.yDomain} tick={false} tickLine={false}
            width={0} axisLine={frame} />
          <Legend layout="vertical" verticalAlign="middle" align="center" content={(p: any) => <LegendRows {...p} />}
            wrapperStyle={{ left: d.legX - 3 - left, top: d.legY - 28.5 - top, width: 600, height: 180 }} />
          {d.series.map((s) => (
            <Line key={s.name} xAxisId="b" yAxisId="l" data={pts(s.ts, s.vs)} dataKey="v" name={s.name}
              type="linear" stroke={s.color} strokeWidth={4} dot={false} activeDot={false}
              isAnimationActive={false} legendType="line" />
          ))}
        </LineChart>
      </div>
      <div style={{ ...textBase, left: d.L - d.yLabelOff, top: d.T + d.H / 2, fontSize: 56,
        transform: 'translate(-50%, -50%) rotate(-90deg)' }}>{d.yLabel}</div>
      <div style={{ ...textBase, left: d.L + d.W / 2, top: d.T + d.H + 125, fontSize: 56 }}>Time (s)</div>
      <div style={{ ...textBase, left: d.L - d.letterOff, top: d.T + d.H + d.letterDy, fontSize: 58 }}>{d.letter}</div>
    </>
  );
}

export default function App() {
  // the figure is laid out on a 4260 x 1795 canvas; fit it to the actual viewport
  const vw = typeof window !== 'undefined' ? window.innerWidth : 4260;
  const vh = typeof window !== 'undefined' ? window.innerHeight : 1795;
  const s = Math.min(vw / 4260, vh / 1795);
  return (
    <div style={{ position: 'absolute', left: 0, top: 0, width: 4260 * s, height: 1795 * s, overflow: 'hidden', background: '#fff' }}>
      <div style={{ position: 'absolute', left: 0, top: 0, width: 4260, height: 1795, transform: `scale(${s})`, transformOrigin: '0 0' }}>
        {panels.map((d) => <Panel key={d.id} d={d} />)}
      </div>
    </div>
  );
}
